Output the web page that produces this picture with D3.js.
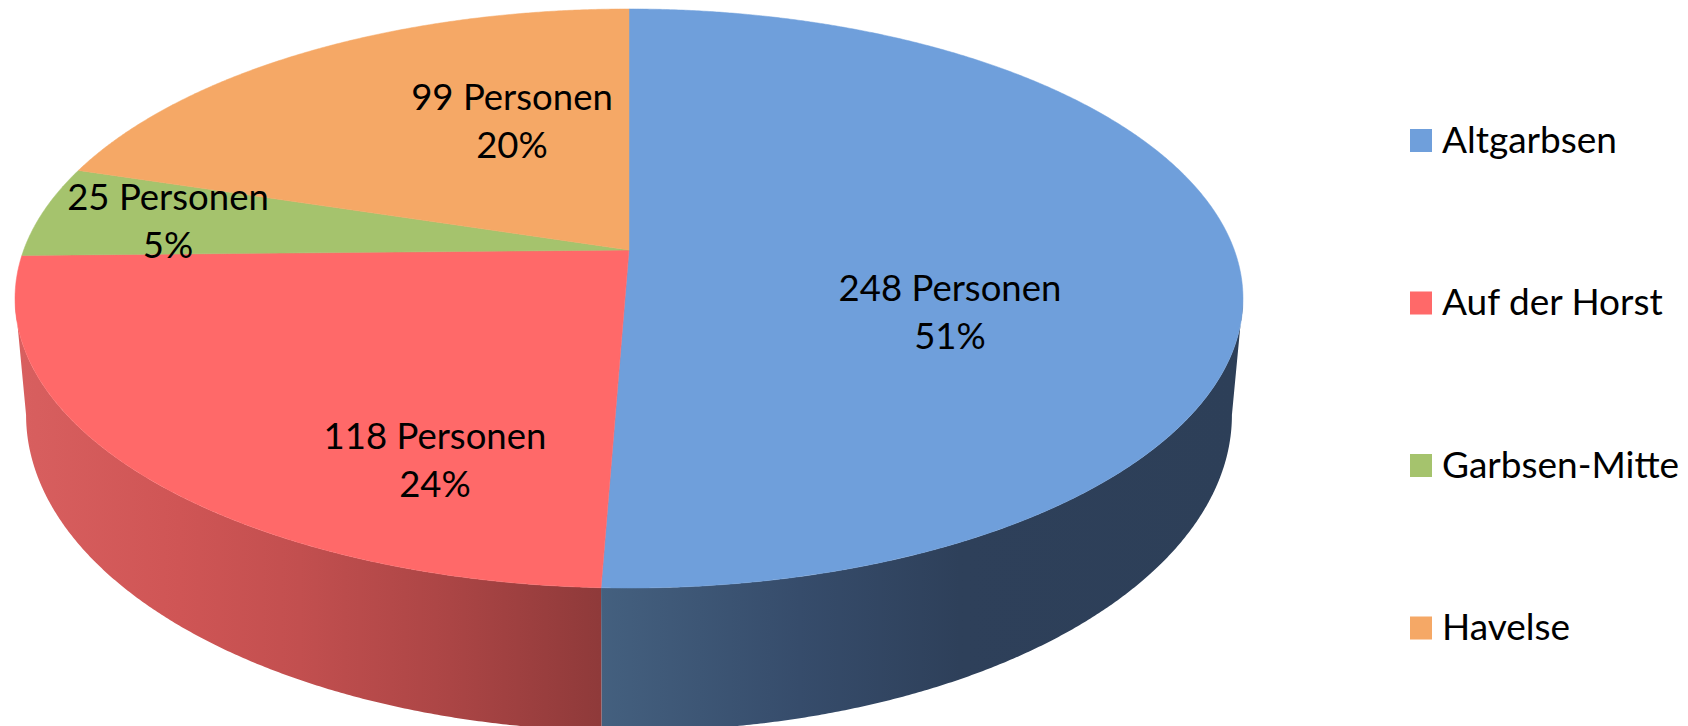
<!DOCTYPE html>
<html>
<head>
<meta charset="utf-8">
<script src="https://cdn.jsdelivr.net/npm/d3@7"></script>
<style>
  html, body { margin: 0; background: #fff; overflow: hidden; }
  svg { display: block; }
  text { font-family: Lato, "Open Sans", sans-serif; fill: #000; }
</style>
</head>
<body>
<svg></svg>
<script>
const categories = ["Altgarbsen", "Auf der Horst", "Garbsen-Mitte", "Havelse"];
const persons = [248, 118, 25, 99];
const colors = ["#6f9fdb", "#ff6969", "#a5c36d", "#f5a866"];

const svgWidth = 1688;
const svgHeight = 726;

const svg = d3.select("svg").attr("width", svgWidth).attr("height", svgHeight);

// the top of the pie is a tilted circle, so the centre sits above the ellipse middle
const cx = 629;
const cy = 250;
const a = 605.3;
const b = 281.4;
const k = 0.1675;
const ellipseMidY = 298.5;

// lower rim, fitted on the picture
const rimScaleX = 0.982;
const rimScaleY = 1.092;
const rimMidY = 415;

// angles where the top ellipse is widest, the side wall stops there
const wallStart = Math.PI / 2 + Math.asin(k);
const wallEnd = 3 * Math.PI / 2 - Math.asin(k);

function topPoint(angle) {
  const u = Math.sin(angle);
  const v = -Math.cos(angle);
  const w = 1 - k * v;
  return [cx + a * u / w, cy + b * v / w];
}

function rimPoint(angle) {
  const p = topPoint(angle);
  return [cx + (p[0] - cx) * rimScaleX, rimMidY + (p[1] - ellipseMidY) * rimScaleY];
}

function sample(a0, a1) {
  const n = Math.max(2, Math.ceil(Math.abs(a1 - a0) / 0.005));
  return d3.range(n + 1).map(i => a0 + (a1 - a0) * i / n);
}

const pie = d3.pie().sort(null).value(d => d)(persons);
const line = d3.line();
const total = d3.sum(persons);
const pct = d3.format(".0%");

// side shading
const defs = svg.append("defs");
function shade(id, stops) {
  const g = defs.append("linearGradient").attr("id", id)
    .attr("gradientUnits", "userSpaceOnUse")
    .attr("x1", 0).attr("x2", svgWidth).attr("y1", 0).attr("y2", 0);
  stops.forEach(s => {
    g.append("stop").attr("offset", s[0] / svgWidth).attr("stop-color", s[1]);
  });
}
shade("sideBlue", [[600, "#44607f"], [800, "#364c6b"], [960, "#2e405a"], [1240, "#2d3f58"]]);
shade("sideRed", [[20, "#d85f5f"], [180, "#cf5555"], [300, "#c24f4f"], [450, "#ab4545"], [600, "#8f3a3a"]]);

// only the two front slices show a side
const sideFill = ["url(#sideBlue)", "url(#sideRed)"];
pie.slice(0, 2).forEach((d, i) => {
  const from = Math.max(d.startAngle, wallStart);
  const to = Math.min(d.endAngle, wallEnd);
  const angles = sample(from, to);
  const pts = angles.map(t => topPoint(t)).concat(angles.slice().reverse().map(t => rimPoint(t)));
  svg.append("path")
    .attr("d", line(pts) + "Z")
    .attr("fill", sideFill[i]);
});

// top faces
svg.selectAll("path.slice")
  .data(pie)
  .enter()
  .append("path")
  .attr("class", "slice")
  .attr("d", d => line([[cx, cy]].concat(sample(d.startAngle, d.endAngle).map(t => topPoint(t)))) + "Z")
  .attr("fill", (d, i) => colors[i])
  .attr("stroke", (d, i) => colors[i])
  .attr("stroke-width", 0.5);

// data labels
const labelCenters = [[950, 288], [435, 436], [168, 197], [512, 97]];
const labelGap = 48;
const labelSize = 36.5;

persons.forEach((v, i) => {
  const t = svg.append("text")
    .attr("text-anchor", "middle")
    .attr("font-size", labelSize)
    .attr("x", labelCenters[i][0])
    .attr("y", labelCenters[i][1] + 13);
  t.append("tspan").text(v + " Personen");
  t.append("tspan")
    .attr("x", labelCenters[i][0])
    .attr("dy", labelGap)
    .text(pct(v / total));
});

// legend
const legendY = d3.scalePoint().domain(categories).range([140.5, 628]);

const legend = svg.selectAll("g.legend")
  .data(categories)
  .enter()
  .append("g")
  .attr("class", "legend")
  .attr("transform", d => "translate(1410," + legendY(d) + ")");

legend.append("rect")
  .attr("x", 0)
  .attr("y", -11.5)
  .attr("width", 22)
  .attr("height", 23)
  .attr("fill", (d, i) => colors[i]);

legend.append("text")
  .attr("x", 32)
  .attr("y", 12)
  .attr("font-size", 37)
  .text(d => d);
</script>
</body>
</html>
